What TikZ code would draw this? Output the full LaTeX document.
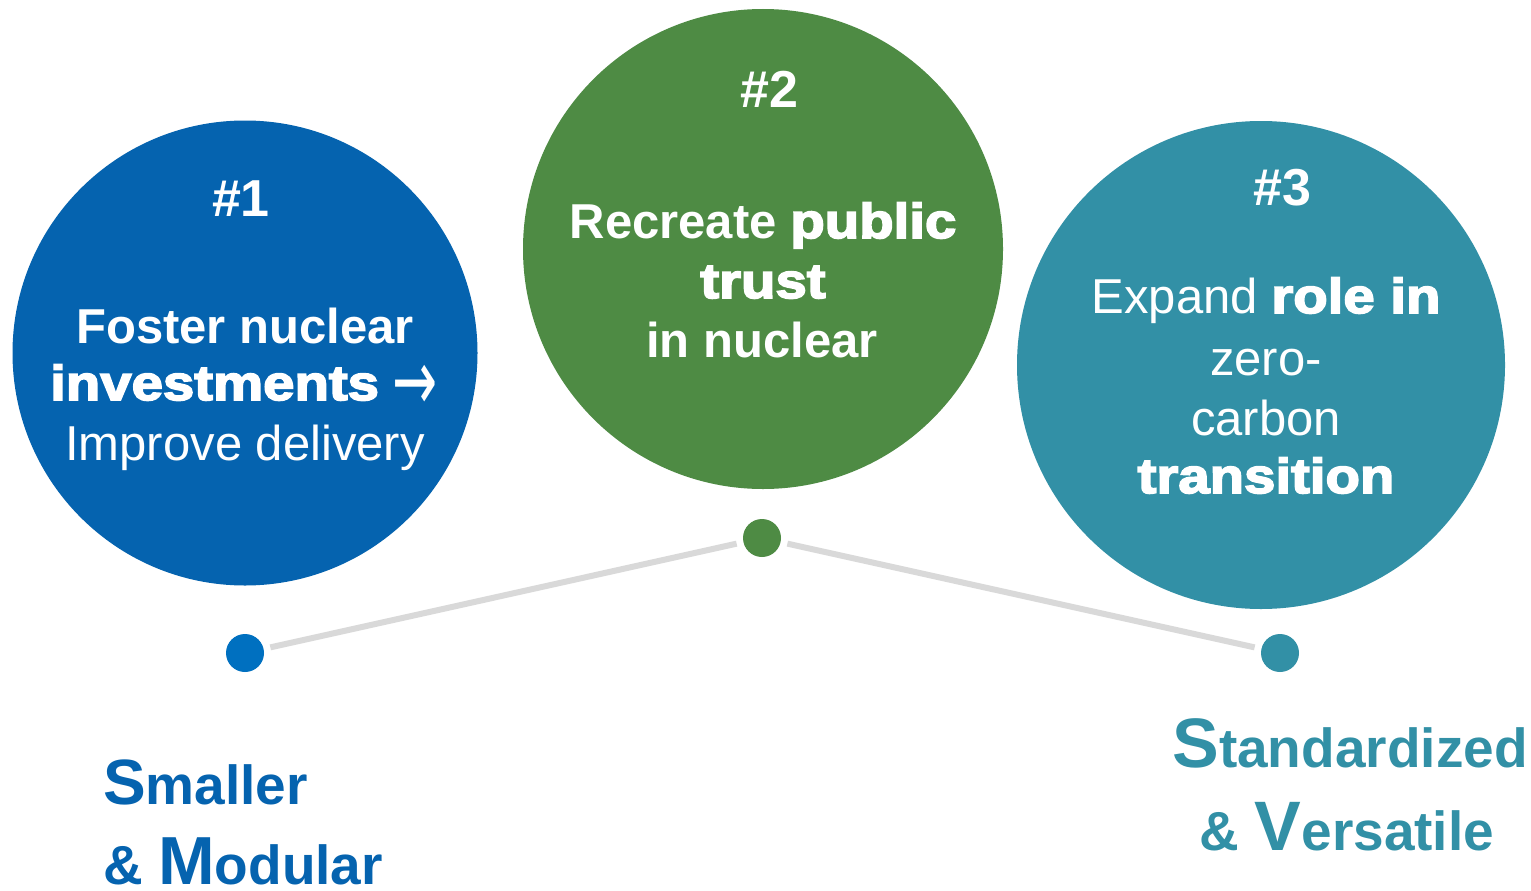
\documentclass[tikz,border=0pt]{standalone}
\usepackage{fontspec}
\setmainfont{Liberation Sans}
\newfontfamily\heavy{Liberation Sans}[UprightFont={* Bold}, FakeBold=3.5, FakeStretch=1.15]
\newfontfamily\arrowfont{DejaVu Sans}
\definecolor{cblue}{HTML}{0563AF}
\definecolor{cgreen}{HTML}{4E8B44}
\definecolor{cteal}{HTML}{3290A6}
\definecolor{dblue}{HTML}{0070C0}
\definecolor{lgray}{HTML}{D9D9D9}
\begin{document}
\begin{tikzpicture}[x=1pt,y=-1pt,
  bigcirc/.style={circle, inner sep=0pt, draw=none},
  dot/.style={circle, inner sep=0pt, minimum size=38pt, outer sep=7pt, draw=none},
  txt/.style={inner sep=0pt, anchor=base, text=white},
  numtxt/.style={txt, font=\bfseries\fontsize{52}{60}\selectfont},
  bodytxt/.style={txt, font=\fontsize{49}{60}\selectfont},
  link/.style={draw=lgray, line width=6pt},
  bottomtxt/.style={inner sep=0pt, font=\bfseries\fontsize{55}{60}\selectfont}]
\useasboundingbox (0,0) rectangle (1531,891);
\fill[white] (0,0) rectangle (1531,891);

% circles
\node[bigcirc, fill=cblue, minimum size=465pt] (c1) at (245,353) {};
\node[bigcirc, fill=cgreen, minimum size=480pt] (c2) at (763,249) {};
\node[bigcirc, fill=cteal, minimum size=488pt] (c3) at (1261,365) {};

% circle 1 text
\node[numtxt] (n1) at (241,216) {\#1};
\node[bodytxt] (t12) at (244,400) {{\heavy investments} \raisebox{-10pt}{\scalebox{1.1}[1.75]{\arrowfont →}}};
\node[bodytxt] (t11) at (245,343) {\bfseries Foster nuclear};
\node[bodytxt] (t13) at (245,460) {Improve delivery};

% circle 2 text
\node[numtxt] (n2) at (769,107) {\#2};
\node[bodytxt] (t21) at (763,238) {\textbf{Recreate} {\heavy public}};
\node[bodytxt] (t22) at (763,298) {\heavy trust};
\node[bodytxt] (t23) at (762,357) {\bfseries in nuclear};

% circle 3 text
\node[numtxt] (n3) at (1282,205) {\#3};
\node[bodytxt] (t31) at (1266,313) {Expand {\heavy role in}};
\node[bodytxt] (t32) at (1266,375) {zero-};
\node[bodytxt] (t33) at (1266,435) {carbon};
\node[bodytxt] (t34) at (1266,493) {\heavy transition};

% dots and links
\node[dot, fill=dblue] (d1) at (245,653) {};
\node[dot, fill=cgreen] (d2) at (762,538) {};
\node[dot, fill=cteal] (d3) at (1280,653) {};
\draw[link] (d1) -- (d2);
\draw[link] (d2) -- (d3);

% bottom labels
\node[bottomtxt, text=cblue, anchor=base west] (b1) at (103,804) {{\fontsize{64}{60}\selectfont S}maller};
\node[bottomtxt, text=cblue, anchor=base west] (b2) at (103,884) {\& {\fontsize{68}{60}\selectfont M}odular};
\node[bottomtxt, text=cteal, anchor=base] (b3) at (1350,767) {{\fontsize{70}{60}\selectfont S}tandardized};
\node[bottomtxt, text=cteal, anchor=base] (b4) at (1347,850) {\& {\fontsize{70}{60}\selectfont V}ersatile};
\end{tikzpicture}
\end{document}
